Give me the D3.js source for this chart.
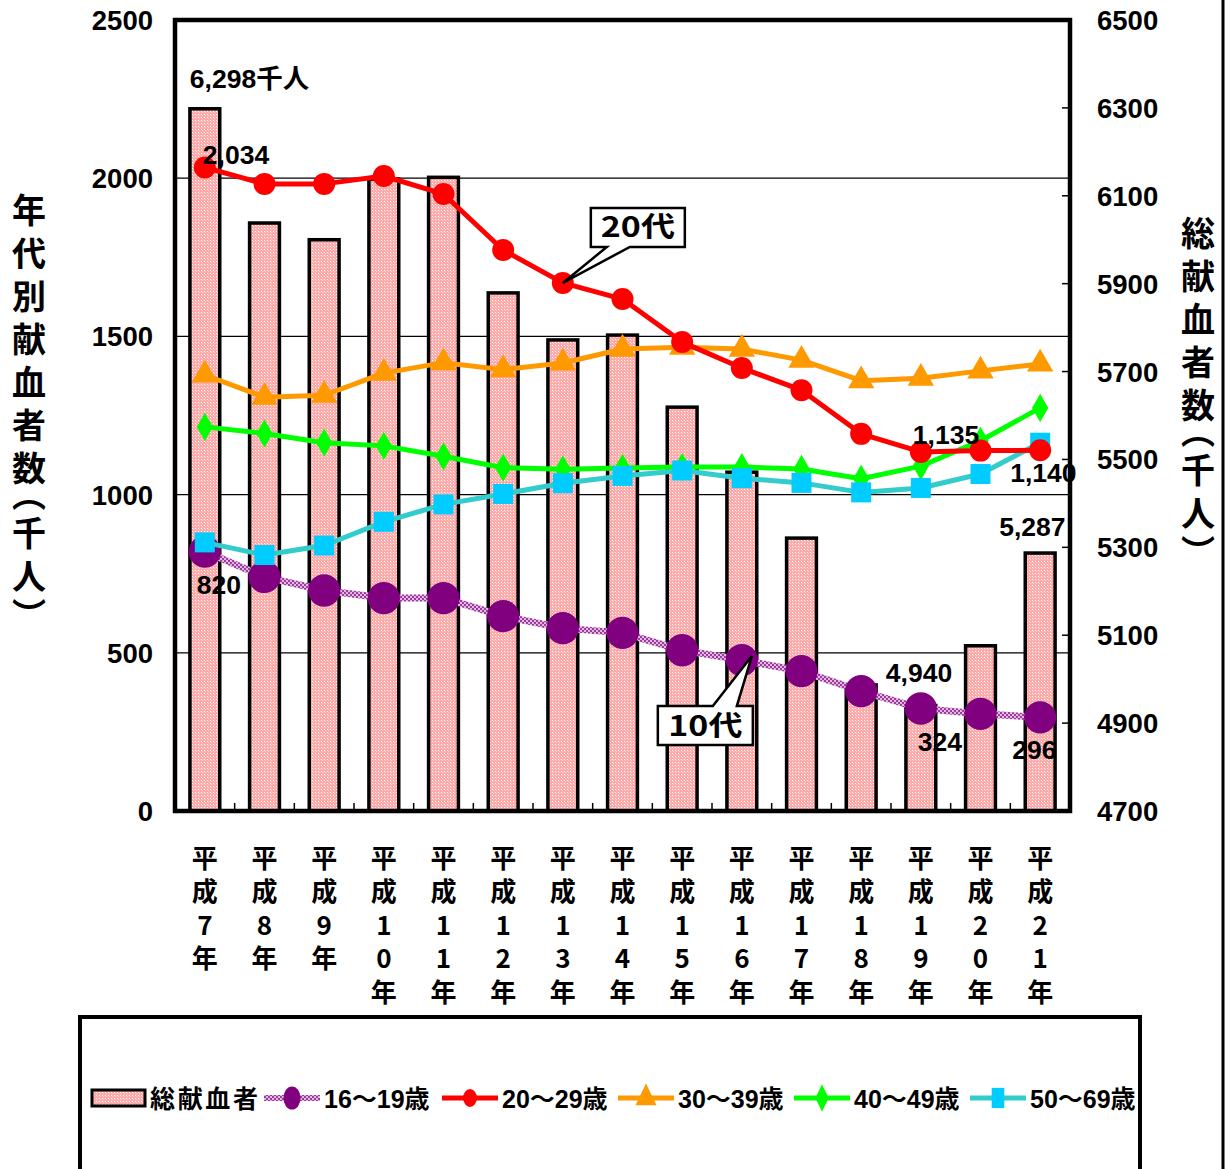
<!DOCTYPE html>
<html><head><meta charset="utf-8">
<script src="https://cdn.jsdelivr.net/npm/d3@7"></script>
<style>body{margin:0;background:#fff}svg{display:block}</style>
</head><body>
<svg id="c" width="1229" height="1169"></svg>
<script>
// ---- data ----
const categories = ["平成7年","平成8年","平成9年","平成10年","平成11年","平成12年","平成13年","平成14年","平成15年","平成16年","平成17年","平成18年","平成19年","平成20年","平成21年"];
const totalDonors = [6298,6038,6000,6138,6142,5879,5772,5783,5619,5471,5321,4987,4940,5076,5287];
const age16to19 = [820,740,697,673,673,616,578,563,508,477,442,379,324,307,296];
const age20to29 = [2034,1982,1982,2007,1950,1773,1669,1618,1482,1400,1330,1192,1135,1139,1140];
const age30to39 = [1378,1308,1314,1384,1417,1395,1416,1460,1466,1460,1425,1360,1368,1391,1413];
const age40to49 = [1214,1193,1164,1154,1121,1085,1080,1084,1087,1087,1081,1050,1090,1170,1274];
const age50to69 = [849,809,839,914,969,1002,1036,1059,1076,1052,1037,1007,1021,1065,1164];
const leftTicks = [0,500,1000,1500,2000,2500];
const rightTicks = [4700,4900,5100,5300,5500,5700,5900,6100,6300,6500];
const seriesNames = ["総献血者","16～19歳","20～29歳","30～39歳","40～49歳","50～69歳"];
const leftTitle = "年代別献血者数（千人）";
const rightTitle = "総献血者数（千人）";

const svg = d3.select("#c");
const L=175, R=1070, T=20, B=811;
const FONT = "'Liberation Sans','Noto Sans CJK JP',sans-serif";
const CJK = "'Noto Sans CJK JP',sans-serif";

const x = d3.scaleBand().domain(categories).range([L,R]).paddingInner(0.5).paddingOuter(0.25);
const cx = c => x(c) + x.bandwidth()/2;
const yL = d3.scaleLinear().domain([0,2500]).range([B,T]);
const yR = d3.scaleLinear().domain([4700,6500]).range([B,T]);

// patterns
const defs = svg.append("defs");
const pb = defs.append("pattern").attr("id","barPat").attr("patternUnits","userSpaceOnUse").attr("width",3).attr("height",3);
pb.append("rect").attr("width",3).attr("height",3).attr("fill","#ffa8a8");
pb.append("rect").attr("width",1).attr("height",1).attr("fill","#ffffff");
pb.append("rect").attr("x",1).attr("y",1).attr("width",1).attr("height",1).attr("fill","#ffd0d0");
const pp = defs.append("pattern").attr("id","purPat").attr("patternUnits","userSpaceOnUse").attr("width",4).attr("height",4);
pp.append("rect").attr("width",4).attr("height",4).attr("fill","#e2b8e2");
pp.append("rect").attr("width",2).attr("height",2).attr("fill","#9b3d9b");
pp.append("rect").attr("x",2).attr("y",2).attr("width",2).attr("height",2).attr("fill","#9b3d9b");
defs.append("clipPath").attr("id","legClip").append("rect").attr("x",82).attr("y",1019).attr("width",1056).attr("height",160);

// gridlines
svg.append("g").selectAll("line").data(leftTicks.filter(d=>d>0&&d<2500)).join("line")
  .attr("x1",L).attr("x2",R).attr("y1",d=>yL(d)).attr("y2",d=>yL(d))
  .attr("stroke","#000").attr("stroke-width",1.2);

// bars
svg.append("g").selectAll("rect").data(categories).join("rect")
  .attr("x",d=>x(d)).attr("width",x.bandwidth())
  .attr("y",(d,i)=>yR(totalDonors[i])).attr("height",(d,i)=>B-yR(totalDonors[i]))
  .attr("fill","url(#barPat)").attr("stroke","#000").attr("stroke-width",3.5);

// lines
const line = d3.line().x(d=>cx(d.c)).y(d=>yL(d.v));
function series(vals){ return vals.map((v,i)=>({c:categories[i],v})); }
function drawLine(vals, stroke, w){
  svg.append("path").datum(series(vals)).attr("d",line).attr("fill","none")
    .attr("stroke",stroke).attr("stroke-width",w).attr("stroke-linejoin","round");
}
const sym = (type,size)=>d3.symbol().type(type).size(size)();
function drawMarkers(vals, type, size, fill){
  svg.append("g").selectAll("path").data(series(vals)).join("path")
    .attr("d",sym(type,size)).attr("transform",d=>`translate(${cx(d.c)},${yL(d.v)})`).attr("fill",fill);
}
drawLine(age16to19,"url(#purPat)",7);
drawMarkers(age16to19,d3.symbolCircle,820,"#800080");
drawLine(age30to39,"#ff9900",5);
drawMarkers(age30to39,d3.symbolTriangle,300,"#ff9900");
drawLine(age40to49,"#00ff00",5);
drawMarkers(age40to49,d3.symbolDiamond,230,"#00ff00");
drawLine(age50to69,"#33cccc",5);
drawMarkers(age50to69,d3.symbolSquare,400,"#00ccff");
drawLine(age20to29,"#ff0000",5);
drawMarkers(age20to29,d3.symbolCircle,380,"#ff0000");

// category boundary ticks (inward)
svg.append("g").selectAll("line").data(categories.slice(1)).join("line")
  .attr("x1",d=>x(d)-x.step()*0.25).attr("x2",d=>x(d)-x.step()*0.25)
  .attr("y1",B).attr("y2",B-8).attr("stroke","#000").attr("stroke-width",1.5);
// right axis ticks (inward)
svg.append("g").selectAll("line").data(rightTicks).join("line")
  .attr("x1",R-8).attr("x2",R).attr("y1",d=>yR(d)).attr("y2",d=>yR(d)).attr("stroke","#000").attr("stroke-width",1.5);

// frame
svg.append("rect").attr("x",L).attr("y",T).attr("width",R-L).attr("height",B-T)
  .attr("fill","none").attr("stroke","#000").attr("stroke-width",4.5);

// axis labels
svg.append("g").selectAll("text").data(leftTicks).join("text")
  .attr("x",153).attr("y",d=>yL(d)+10).attr("text-anchor","end")
  .attr("font-family",FONT).attr("font-weight","bold").attr("font-size",27.5).text(d=>d);
svg.append("g").selectAll("text").data(rightTicks).join("text")
  .attr("x",1097).attr("y",d=>yR(d)+10).attr("text-anchor","start")
  .attr("font-family",FONT).attr("font-weight","bold").attr("font-size",27.5).text(d=>d);

// category labels (vertical stacked)
const catG = svg.append("g");
categories.forEach(c=>{
  const t = catG.append("text").attr("text-anchor","middle")
    .attr("font-family",CJK).attr("font-weight","bold").attr("font-size",26);
  Array.from(c).forEach((ch,k)=>{
    t.append("tspan").attr("x",cx(c)).attr("y",868+k*33.4).text(ch);
  });
});

// axis titles (vertical, one glyph per step; brackets take half a step)
function vTitle(txt,xx,yy){
  const g = svg.append("g");
  let cur = yy;
  Array.from(txt).forEach(ch=>{
    const isOpen = ch==="（", isClose = ch==="）";
    const t = g.append("text").attr("x",xx)
      .style("writing-mode","vertical-rl")
      .attr("font-family",CJK).attr("font-weight","bold").attr("font-size",34).text(ch);
    if(isOpen){ t.attr("y",cur-17); cur += 22; }
    else if(isClose){ t.attr("y",cur-4); cur += 22; }
    else { t.attr("y",cur); cur += 43; }
  });
}
vTitle(leftTitle,29,193);
vTitle(rightTitle,1198,216);

// data labels
const lab = (txt,xx,yy)=>svg.append("text").attr("x",xx).attr("y",yy)
  .attr("font-family",FONT).attr("font-weight","bold").attr("font-size",26.5).text(txt);
const I = i=>categories[i];
lab("6,298千人",cx(I(0))-15,yR(totalDonors[0])-21);
lab("2,034",cx(I(0))-2,yL(age20to29[0])-3);
lab("820",cx(I(0))-8,yL(age16to19[0])+42);
lab("1,135",cx(I(12))-8,yL(age20to29[12])-8);
lab("1,140",cx(I(14))-30,yL(age20to29[14])+32);
lab("5,287",cx(I(14))-41,yR(totalDonors[14])-17);
lab("4,940",cx(I(12))-35,yR(totalDonors[12])-24);
lab("324",cx(I(12))-3,yL(age16to19[12])+43);
lab("296",cx(I(14))-28,yL(age16to19[14])+42);

// callouts
function callout(txt,tipX,tipY,bx,by,bw,bh,baseA,baseB,onTop){
  let p;
  if(!onTop){
    p = `M${bx},${by} H${bx+bw} V${by+bh} H${baseB} L${tipX},${tipY} L${baseA},${by+bh} H${bx} Z`;
  } else {
    p = `M${bx},${by} H${baseA} L${tipX},${tipY} L${baseB},${by} H${bx+bw} V${by+bh} H${bx} Z`;
  }
  svg.append("path").attr("d",p).attr("fill","#fff").attr("stroke","#000").attr("stroke-width",2.5).attr("stroke-linejoin","miter");
  svg.append("text").attr("x",bx+bw/2).attr("y",by+bh/2+10).attr("text-anchor","middle")
    .attr("font-family",CJK).attr("font-weight","bold").attr("font-size",28)
    .attr("textLength",74).attr("lengthAdjust","spacingAndGlyphs").text(txt);
}
{
  const tx=cx(I(6)), ty=yL(age20to29[6]);
  callout("20代",tx,ty,tx+28,ty-75,94,39,tx+44,tx+67,false);
  const tx2=cx(I(9))+10, ty2=yL(age16to19[9])-4;
  callout("10代",tx2,ty2,tx2-94,ty2+50,95,39,tx2-39,tx2-15,true);
}

// legend
svg.append("rect").attr("x",80).attr("y",1017).attr("width",1060).attr("height",200)
  .attr("fill","#fff").attr("stroke","#000").attr("stroke-width",4);
const lg = svg.append("g").attr("clip-path","url(#legClip)");
const ly = 1098;
const legItems = [
  {type:"bar", x:92},
  {type:"line", x:264, stroke:"url(#purPat)", w:6, sym:d3.symbolCircle, size:230, fill:"#800080", sx:1, sy:1.35},
  {type:"line", x:442, stroke:"#ff0000", w:5, sym:d3.symbolCircle, size:150, fill:"#ff0000", sx:1, sy:1.3},
  {type:"line", x:618, stroke:"#ff9900", w:5, sym:d3.symbolTriangle, size:190, fill:"#ff9900", sx:1, sy:1.2},
  {type:"line", x:794, stroke:"#00ff00", w:5, sym:d3.symbolDiamond, size:150, fill:"#00ff00", sx:1, sy:1.2},
  {type:"line", x:970, stroke:"#33cccc", w:5, sym:d3.symbolSquare, size:160, fill:"#00ccff", sx:1, sy:1.6}
];
legItems.forEach((it,i)=>{
  let tx;
  if(it.type==="bar"){
    lg.append("rect").attr("x",it.x).attr("y",ly-8).attr("width",53).attr("height",16)
      .attr("fill","url(#barPat)").attr("stroke","#000").attr("stroke-width",3);
    tx = it.x+58;
  } else {
    lg.append("line").attr("x1",it.x).attr("x2",it.x+56).attr("y1",ly).attr("y2",ly)
      .attr("stroke",it.stroke).attr("stroke-width",it.w);
    lg.append("path").attr("d",sym(it.sym,it.size))
      .attr("transform",`translate(${it.x+28},${ly}) scale(${it.sx},${it.sy})`).attr("fill",it.fill);
    tx = it.x+60;
  }
  lg.append("text").attr("x",tx).attr("y",ly+10)
    .attr("font-family",FONT).attr("font-weight","bold").attr("font-size",25)
    .attr("textLength", i===0?108:null)
    .text(seriesNames[i]);
});

// outer right border line
svg.append("line").attr("x1",1223).attr("x2",1223).attr("y1",0).attr("y2",1169).attr("stroke","#000").attr("stroke-width",3);
</script>
</body></html>
